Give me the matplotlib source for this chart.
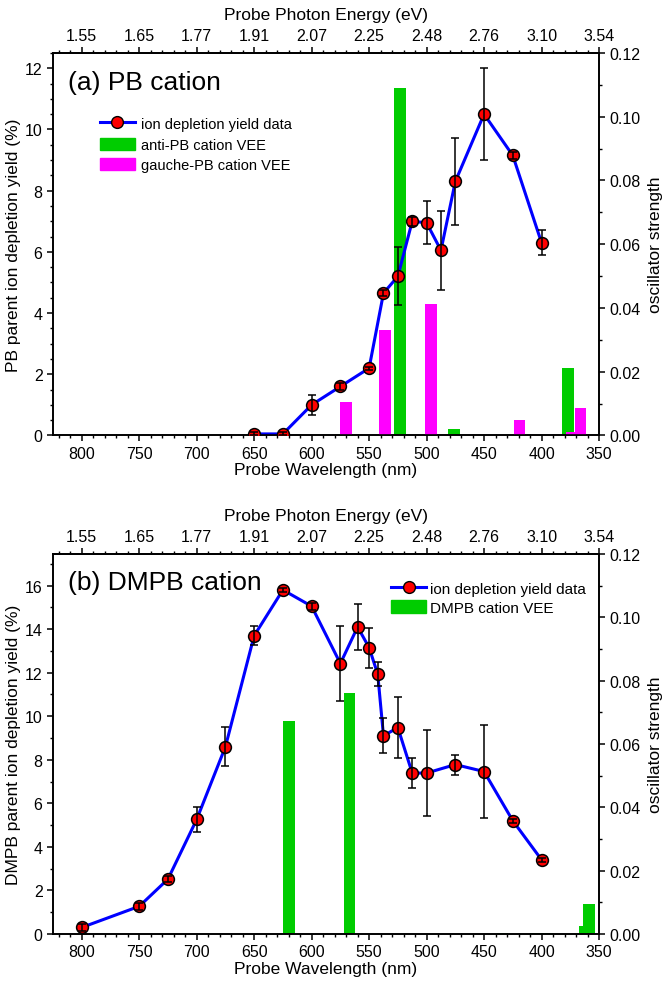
import matplotlib
matplotlib.use('Agg')
import matplotlib.pyplot as plt
import numpy as np
from matplotlib.lines import Line2D
from matplotlib.patches import Patch
from matplotlib.ticker import MultipleLocator

plt.rcParams['font.family'] = ['Liberation Sans', 'DejaVu Sans']

# ---- (a) PB cation ----
pb_wl = [650, 625, 600, 575, 550, 537.5, 525, 512.5, 500, 487.5, 475, 450, 425, 400]
pb_yield = [0.05, 0.05, 1.0, 1.6, 2.2, 4.65, 5.2, 7.0, 6.95, 6.05, 8.3, 10.5, 9.15, 6.3]
pb_err = [0.05, 0.05, 0.32, 0.1, 0.05, 0.1, 0.95, 0.15, 0.7, 1.3, 1.43, 1.5, 0.1, 0.4]

anti_wl = [523, 476, 377]
anti_f = [0.109, 0.002, 0.0213]
gauche_wl = [570, 536, 496, 419, 374, 366]
gauche_f = [0.0105, 0.0332, 0.0412, 0.005, 0.0012, 0.0085]

# ---- (b) DMPB cation ----
dm_wl = [800, 750, 725, 700, 675, 650, 625, 600, 575, 560, 550, 542.5, 537.5,
         525, 512.5, 500, 475, 450, 425, 400]
dm_yield = [0.3, 1.27, 2.52, 5.26, 8.6, 13.7, 15.8, 15.05, 12.42, 14.1, 13.15,
            11.93, 9.1, 9.48, 7.39, 7.39, 7.78, 7.46, 5.2, 3.41]
dm_err = [0.15, 0.15, 0.15, 0.58, 0.9, 0.45, 0.1, 0.15, 1.72, 1.07, 0.92,
          0.54, 0.8, 1.41, 0.68, 1.97, 0.46, 2.14, 0.1, 0.1]

dmpb_wl = [619.5, 567, 434, 405, 395, 362, 358.5]
dmpb_f = [0.0673, 0.0761, 0.0003, 0.0003, 0.0003, 0.0024, 0.0095]

wl_ticks = [800, 750, 700, 650, 600, 550, 500, 450, 400, 350]
ev_labels = ['1.55', '1.65', '1.77', '1.91', '2.07', '2.25', '2.48', '2.76', '3.10', '3.54']

GREEN = '#00cc00'
MAGENTA = '#ff00ff'
TICK_FS = 11.5
LAB_FS = 12.5


def style_axes(ax, axr, ymax, ymajor, yminor):
    ax.set_xlim(825, 350)
    ax.set_ylim(0, ymax)
    axr.set_ylim(0, 0.12)
    ax.set_xticks(wl_ticks)
    ax.xaxis.set_minor_locator(MultipleLocator(10))
    ax.yaxis.set_major_locator(MultipleLocator(ymajor))
    ax.yaxis.set_minor_locator(MultipleLocator(yminor))
    axr.yaxis.set_major_locator(MultipleLocator(0.02))
    axr.yaxis.set_minor_locator(MultipleLocator(0.01))
    axr.yaxis.set_major_formatter(matplotlib.ticker.FormatStrFormatter('%.2f'))
    for a in (ax, axr):
        a.tick_params(which='major', direction='out', length=4, width=1.1, labelsize=TICK_FS)
        a.tick_params(which='minor', direction='out', length=2.5, width=1.0)
        for s in a.spines.values():
            s.set_linewidth(1.2)
    # vertical grid drawn on the bar axes (underneath)
    axr.grid(axis='x', color='#c8c8c8', lw=0.9)
    axr.set_axisbelow(True)
    ax.set_zorder(axr.get_zorder() + 1)
    ax.patch.set_visible(False)
    axr.set_ylabel('oscillator strength', fontsize=LAB_FS, labelpad=5)
    ax.set_xlabel('Probe Wavelength (nm)', fontsize=LAB_FS, labelpad=1)
    top = ax.secondary_xaxis('top', functions=(lambda x: x, lambda x: x))
    top.set_xticks(wl_ticks)
    top.set_xticklabels(ev_labels)
    top.xaxis.set_minor_locator(MultipleLocator(10))
    top.tick_params(which='major', direction='out', length=4, width=1.1, labelsize=TICK_FS)
    top.tick_params(which='minor', direction='out', length=2.5, width=1.0)
    top.spines['top'].set_linewidth(1.2)
    top.set_xlabel('Probe Photon Energy (eV)', fontsize=LAB_FS, labelpad=6)


def draw_data(ax, wl, yv, err):
    ax.plot(wl, yv, color='#0000ff', lw=2.2, zorder=2)
    ax.plot(wl, yv, 'o', ms=8.5, mfc='#ff0000', mec='black', mew=1.1, zorder=3)
    ax.errorbar(wl, yv, yerr=err, fmt='none', ecolor='black', elinewidth=1.1,
                capsize=3, capthick=1.1, zorder=4)


fig = plt.figure(figsize=(6.66, 9.87), dpi=100)

# panel (a)
ax1 = fig.add_axes([0.0796, 0.5578, 0.8198, 0.3875])
ax1r = ax1.twinx()
ax1r.bar(anti_wl, anti_f, width=10, color=GREEN, zorder=2)
ax1r.bar(gauche_wl, gauche_f, width=10, color=MAGENTA, zorder=3)
draw_data(ax1, pb_wl, pb_yield, pb_err)
style_axes(ax1, ax1r, 12.5, 2, 0.5)
ax1.set_ylabel('PB parent ion depletion yield (%)', fontsize=LAB_FS, labelpad=3)
ax1.text(0.028, 0.925, '(a) PB cation', transform=ax1.transAxes, fontsize=19,
         va='center', ha='left')
h1 = [Line2D([], [], color='#0000ff', lw=2.2, marker='o', ms=8.5, mfc='#ff0000', mec='black'),
      Patch(color=GREEN), Patch(color=MAGENTA)]
ax1.legend(h1, ['ion depletion yield data', 'anti-PB cation VEE', 'gauche-PB cation VEE'],
           loc='upper left', bbox_to_anchor=(0.075, 0.848), frameon=False, fontsize=10.5,
           handlelength=2.4, handleheight=0.9, handletextpad=0.4, labelspacing=0.45,
           borderaxespad=0)

# panel (b)
ax2 = fig.add_axes([0.0796, 0.0527, 0.8198, 0.385])
ax2r = ax2.twinx()
ax2r.bar(dmpb_wl, dmpb_f, width=10, color=GREEN, zorder=2)
draw_data(ax2, dm_wl, dm_yield, dm_err)
style_axes(ax2, ax2r, 17.45, 2, 1)
ax2.set_ylabel('DMPB parent ion depletion yield (%)', fontsize=LAB_FS, labelpad=3)
ax2.text(0.028, 0.925, '(b) DMPB cation', transform=ax2.transAxes, fontsize=19,
         va='center', ha='left')
h2 = [Line2D([], [], color='#0000ff', lw=2.2, marker='o', ms=8.5, mfc='#ff0000', mec='black'),
      Patch(color=GREEN)]
ax2.legend(h2, ['ion depletion yield data', 'DMPB cation VEE'],
           loc='upper right', bbox_to_anchor=(0.987, 0.945), frameon=False, fontsize=11,
           handlelength=2.3, handleheight=0.9, handletextpad=0.25, labelspacing=0.3,
           borderaxespad=0)

fig.savefig('out.png', dpi=100)
